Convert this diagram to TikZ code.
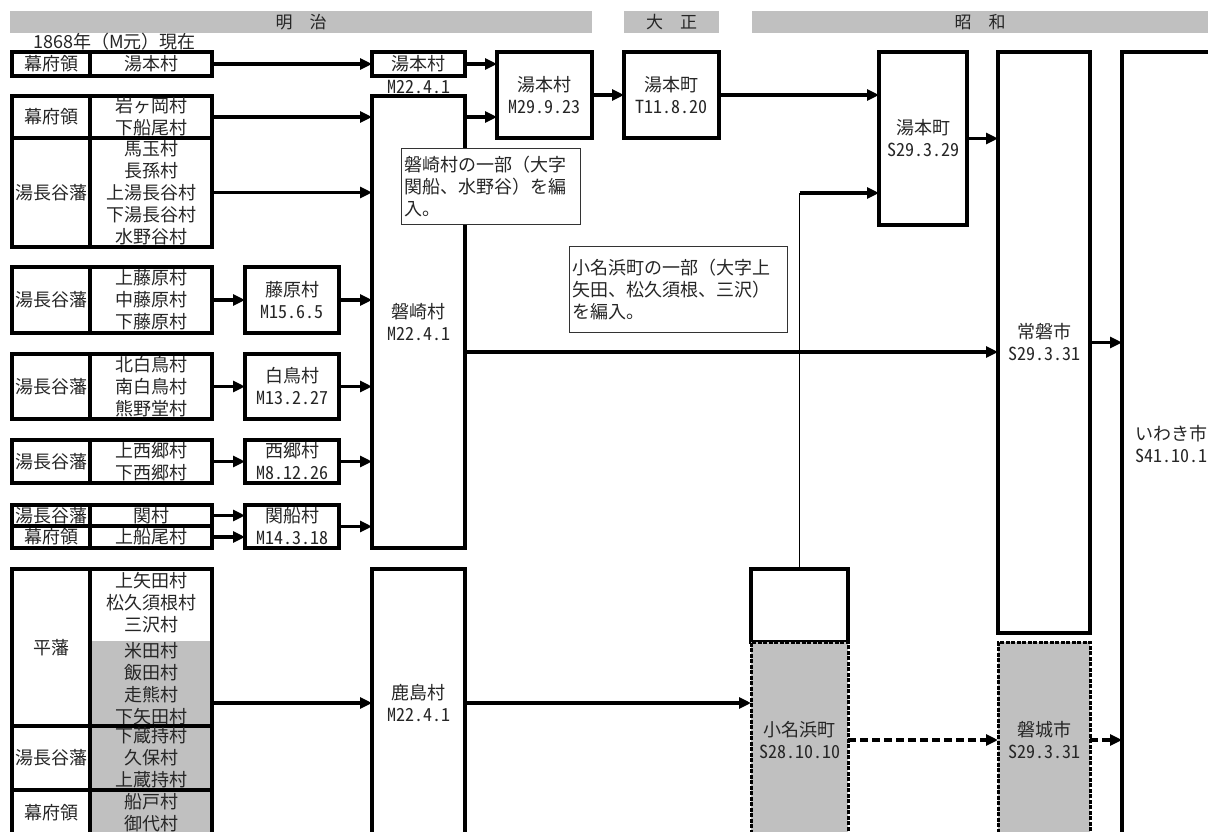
\documentclass[tikz,border=0pt]{standalone}
\usepackage{fontspec}
\setmainfont{Noto Sans CJK JP}
\newfontfamily\hw{Noto Sans CJK JP}[RawFeature=+hwid]
\usetikzlibrary{arrows.meta,positioning}
\definecolor{silver}{HTML}{C0C0C0}

\begin{document}
\begin{tikzpicture}[x=1pt, y=-1pt, every node/.style={text=black!85, font=\fontsize{18}{22}\selectfont}]
    \tikzstyle{box} = [rectangle, draw=black, line width=3.4pt, inner sep=0pt, outer sep=0pt, anchor=north west, align=center]
    \tikzstyle{shade} = [box, fill=silver]
    \tikzstyle{dbox} = [box, fill=silver, line width=3pt, dash pattern=on 4pt off 1.5pt]
    \tikzstyle{note} = [rectangle, draw=black!80, line width=0.9pt, fill=white, anchor=north west, inner sep=3pt, align=left]
    \tikzstyle{era} = [rectangle, fill=silver, inner sep=0pt, anchor=north west, font=\fontsize{17}{20}\selectfont]
    \tikzstyle{arr} = [line width=3.2pt, -{Triangle[length=12pt,width=11pt]}]
    \tikzstyle{darr} = [arr, dash pattern=on 8pt off 4pt]

    \useasboundingbox (0,0) rectangle (1208,832);

    % Era bars
    \node [era, minimum width=582, minimum height=22] (meiji) at (10,11) {明　治};
    \node [era, minimum width=95, minimum height=22] (taisho) at (624,11) {大　正};
    \node [era, minimum width=456, minimum height=22] (showa) at (752,11) {昭　和};
    \node [anchor=west, inner sep=0pt] (start_year) at (33,42) {1868年（M元）現在};

    % Villages in 1868
    \node [box, minimum width=78, minimum height=24] (han_1) at (12,52) {幕府領};
    \node [box, minimum width=122, minimum height=24] (vil_1) at (90,52) {湯本村};
    \node [box, minimum width=78, minimum height=42] (han_2) at (12,96) {幕府領};
    \node [box, minimum width=122, minimum height=42] (vil_2) at (90,96) {岩ヶ岡村\\下船尾村};
    \node [box, minimum width=78, minimum height=109] (han_3) at (12,138) {湯長谷藩};
    \node [box, minimum width=122, minimum height=109] (vil_3) at (90,138) {馬玉村\\長孫村\\上湯長谷村\\下湯長谷村\\水野谷村};
    \node [box, minimum width=78, minimum height=66] (han_4) at (12,267) {湯長谷藩};
    \node [box, minimum width=122, minimum height=66] (vil_4) at (90,267) {上藤原村\\中藤原村\\下藤原村};
    \node [box, minimum width=78, minimum height=65] (han_5) at (12,354) {湯長谷藩};
    \node [box, minimum width=122, minimum height=65] (vil_5) at (90,354) {北白鳥村\\南白鳥村\\熊野堂村};
    \node [box, minimum width=78, minimum height=43] (han_6) at (12,440) {湯長谷藩};
    \node [box, minimum width=122, minimum height=43] (vil_6) at (90,440) {上西郷村\\下西郷村};
    \node [box, minimum width=78, minimum height=21] (han_7a) at (12,505) {湯長谷藩};
    \node [box, minimum width=122, minimum height=21] (vil_7a) at (90,505) {関村};
    \node [box, minimum width=78, minimum height=22] (han_7b) at (12,526) {幕府領};
    \node [box, minimum width=122, minimum height=22] (vil_7b) at (90,526) {上船尾村};

    \node [box, draw=none, fill=silver, minimum width=122, minimum height=85] (vil_8g) at (90,641) {米田村\\飯田村\\走熊村\\下矢田村};
    \node [box, minimum width=78, minimum height=157] (han_8a) at (12,569) {平藩};
    \node [box, minimum width=122, minimum height=157] (vil_8a) at (90,569) {};
    \node [inner sep=0pt, align=center] (vil_8w) at (151,603) {上矢田村\\松久須根村\\三沢村};
    \node [box, minimum width=78, minimum height=64] (han_8b) at (12,726) {湯長谷藩};
    \node [shade, minimum width=122, minimum height=64] (vil_8b) at (90,726) {下蔵持村\\久保村\\上蔵持村};
    \node [box, minimum width=78, minimum height=46] (han_8c) at (12,790) {幕府領};
    \node [shade, minimum width=122, minimum height=46] (vil_8c) at (90,790) {船戸村\\御代村};

    % Meiji mergers
    \node [box, minimum width=94, minimum height=66] (fujiwara) at (245,267) {藤原村\\\hw M15.6.5};
    \node [box, minimum width=94, minimum height=65] (shiratori) at (245,354) {白鳥村\\\hw M13.2.27};
    \node [box, minimum width=94, minimum height=43] (saigo) at (245,440) {西郷村\\\hw M8.12.26};
    \node [box, minimum width=94, minimum height=43] (sekifune) at (245,505) {関船村\\\hw M14.3.18};

    \node [box, minimum width=93, minimum height=24] (yumoto_m22) at (372,52) {湯本村};
    \node [below=3pt of yumoto_m22, inner sep=1pt, font=\fontsize{18}{22}\hw] (yumoto_m22_date) {M22.4.1};
    \node [box, minimum width=93, minimum height=452] (iwasaki) at (372,96) {磐崎村\\\hw M22.4.1};
    \node [box, minimum width=93, minimum height=268] (kashima) at (372,569) {鹿島村\\\hw M22.4.1};
    \node [box, minimum width=95, minimum height=86] (yumoto_m29) at (497,52) {湯本村\\\hw M29.9.23};

    % Taisho and Showa
    \node [box, minimum width=95, minimum height=86] (yumoto_t11) at (624,52) {湯本町\\\hw T11.8.20};
    \node [box, minimum width=88, minimum height=173] (yumoto_s29) at (879,52) {湯本町\\\hw S29.3.29};
    \node [box, minimum width=97, minimum height=73] (onahama_top) at (751,569) {};
    \node [dbox, minimum width=97, minimum height=196] (onahama) at (751,642) {小名浜町\\\hw S28.10.10};
    \node [box, minimum width=92, minimum height=581] (joban) at (998,52) {常磐市\\\hw S29.3.31};
    \node [dbox, minimum width=92, minimum height=196] (banjo) at (998,642) {磐城市\\\hw S29.3.31};
    \node [box, minimum width=98, minimum height=784] (iwaki) at (1122,52) {いわき市\\\hw S41.10.1};

    % Connections
    \draw [arr] (vil_1.east) -- (yumoto_m22.west);
    \draw [arr] (vil_2.east) -- (iwasaki.west |- vil_2.east);
    \draw [arr] (vil_3.east) -- (iwasaki.west |- vil_3.east);
    \draw [arr] (vil_4.east) -- (fujiwara.west);
    \draw [arr] (vil_5.east) -- (shiratori.west);
    \draw [arr] (vil_6.east) -- (saigo.west);
    \draw [arr] (vil_7a.east) -- (sekifune.west |- vil_7a.east);
    \draw [arr] (vil_7b.east) -- (sekifune.west |- vil_7b.east);
    \draw [arr] (fujiwara.east) -- (iwasaki.west |- fujiwara.east);
    \draw [arr] (shiratori.east) -- (iwasaki.west |- shiratori.east);
    \draw [arr] (saigo.east) -- (iwasaki.west |- saigo.east);
    \draw [arr] (sekifune.east) -- (iwasaki.west |- sekifune.east);
    \draw [arr] (vil_8a.east |- kashima.west) -- (kashima.west);

    \coordinate (iwasaki_top) at ([yshift=-21pt]iwasaki.north east);
    \coordinate (iwasaki_mid) at ([yshift=-30pt]iwasaki.east);
    \coordinate (onahama_bend) at (onahama_top.north |- 0,193);
    \draw [arr] (yumoto_m22.east) -- (yumoto_m29.west |- yumoto_m22.east);
    \draw [arr] (iwasaki_top) -- (yumoto_m29.west |- iwasaki_top);
    \draw [arr] (yumoto_m29.east) -- (yumoto_t11.west);
    \draw [arr] (yumoto_t11.east) -- (yumoto_s29.west |- yumoto_t11.east);
    \draw [arr] (yumoto_s29.east) -- (joban.west |- yumoto_s29.east);
    \draw [arr] (iwasaki_mid) -- (joban.west |- iwasaki_mid);
    \draw [line width=1.2pt] (onahama_top.north) -- (onahama_bend);
    \draw [arr] (onahama_bend) -- (yumoto_s29.west |- onahama_bend);
    \draw [arr] (kashima.east) -- (onahama.west |- kashima.east);
    \draw [darr] (onahama.east) -- (banjo.west);
    \draw [darr] (banjo.east) -- (iwaki.west |- banjo.east);
    \draw [arr] (joban.east) -- (iwaki.west |- joban.east);

    % Notes
    \node [note, text width=173, minimum height=76] (note_iwasaki) at (401,148) {磐崎村の一部（大字\\関船、水野谷）を編\\入。};
    \node [note, text width=212, minimum height=86] (note_onahama) at (569,246) {小名浜町の一部（大字上\\矢田、松久須根、三沢）\\を編入。};
\end{tikzpicture}
\end{document}
